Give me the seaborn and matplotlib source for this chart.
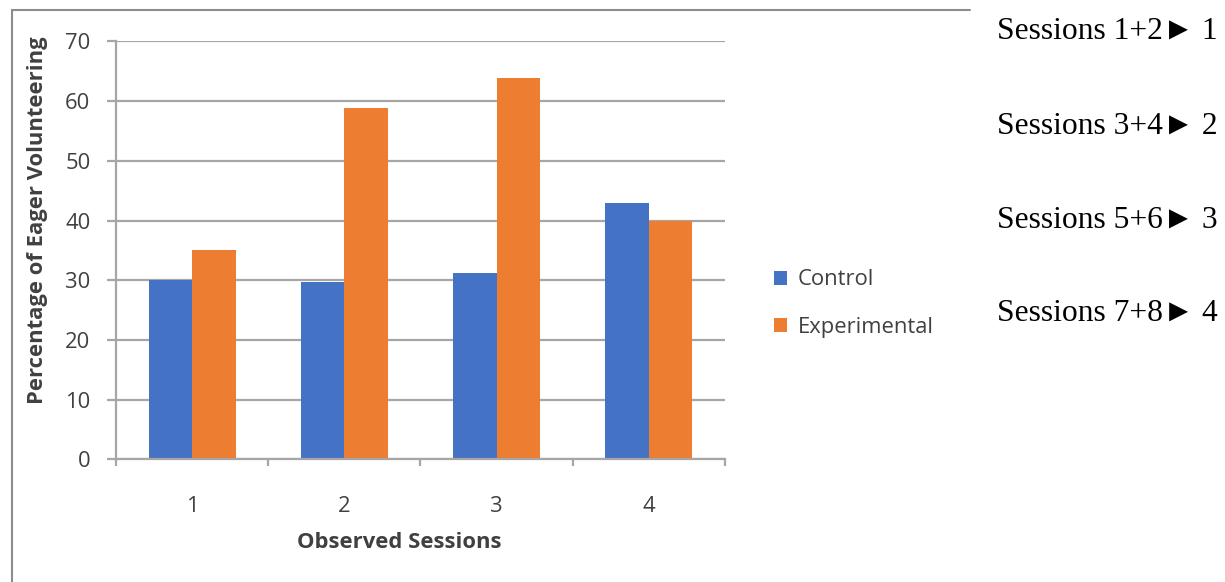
import matplotlib
matplotlib.use("Agg")
import matplotlib.pyplot as plt
import matplotlib.lines as mlines
import seaborn as sns
import pandas as pd

# Data
sessions = ["1", "2", "3", "4"]
control = [30.0, 29.7, 31.3, 43.0]
experimental = [35.0, 58.8, 63.9, 40.0]
groups = ["Control", "Experimental"]
session_notes = ["Sessions 1+2\u25ba 1", "Sessions 3+4\u25ba 2",
                 "Sessions 5+6\u25ba 3", "Sessions 7+8\u25ba 4"]
y_ticks = [0, 10, 20, 30, 40, 50, 60, 70]

df = pd.DataFrame({
    "Session": sessions * 2,
    "Value": control + experimental,
    "Group": [groups[0]] * len(sessions) + [groups[1]] * len(sessions),
})

sns.set_theme(style="white")
plt.rcParams["font.family"] = ["Open Sans", "DejaVu Sans"]

FS = 15.8

fig = plt.figure(figsize=(12.25, 5.82), dpi=100)
ax = fig.add_axes([0.0947, 0.2105, 0.4971, 0.7185])

palette = {"Control": "#4472C4", "Experimental": "#ED7D31"}
sns.barplot(data=df, x="Session", y="Value", hue="Group", order=sessions,
            hue_order=groups, palette=palette, width=0.57, saturation=1,
            ax=ax, edgecolor="none")

ax.set_xlim(-0.5, len(sessions) - 0.5)
ax.set_ylim(0, 70)
ax.set_yticks(y_ticks)
ax.yaxis.grid(True, color="#a6a6a6", linewidth=1.6)
ax.set_axisbelow(True)

for side in ["top", "right"]:
    ax.spines[side].set_visible(False)
for side in ["left", "bottom"]:
    ax.spines[side].set_color("#a6a6a6")
    ax.spines[side].set_linewidth(1.6)

# y ticks extend outward like the gridlines
ax.tick_params(axis="y", which="major", left=True, length=6.5, width=1.6,
               color="#a6a6a6", labelsize=FS, labelcolor="#404040", pad=12)
# x: labels at category centres, tick marks at category boundaries
ax.tick_params(axis="x", which="major", bottom=False, labelsize=FS,
               labelcolor="#404040", pad=20)
ax.set_xticks([i - 0.5 for i in range(len(sessions) + 1)], minor=True)
ax.tick_params(axis="x", which="minor", bottom=True, length=5, width=1.6,
               color="#a6a6a6")

ax.set_xlabel("Observed Sessions", fontsize=FS, fontweight="bold", color="#404040")
ax.set_ylabel("Percentage of Eager Volunteering", fontsize=FS, fontweight="bold",
              color="#404040")
ax.xaxis.set_label_coords(0.465, -0.173)
ax.yaxis.set_label_coords(-0.112, 0.573)

handles, labels = ax.get_legend_handles_labels()
ax.legend(handles, labels, loc="center left", bbox_to_anchor=(0.6155, 0.4785),
          bbox_transform=fig.transFigure, frameon=False, fontsize=FS,
          handlelength=0.6, handleheight=0.6, handletextpad=0.5,
          labelspacing=1.2, labelcolor="#404040")

# chart frame edges
fig.add_artist(mlines.Line2D([12 / 1225, 12 / 1225], [0, 1 - 10 / 582],
                             transform=fig.transFigure, color="#8c8c8c", linewidth=1.5))
fig.add_artist(mlines.Line2D([12 / 1225, 970 / 1225], [1 - 10 / 582, 1 - 10 / 582],
                             transform=fig.transFigure, color="#8c8c8c", linewidth=1.5))

# session grouping notes
note_y = [31, 126, 220, 313]
for txt, yp in zip(session_notes, note_y):
    fig.text(997 / 1225, 1 - yp / 582, txt, ha="left", va="center",
             fontsize=22.7, color="black",
             family=["Liberation Serif", "DejaVu Sans"])

fig.savefig("out.png", dpi=100, facecolor="white")
